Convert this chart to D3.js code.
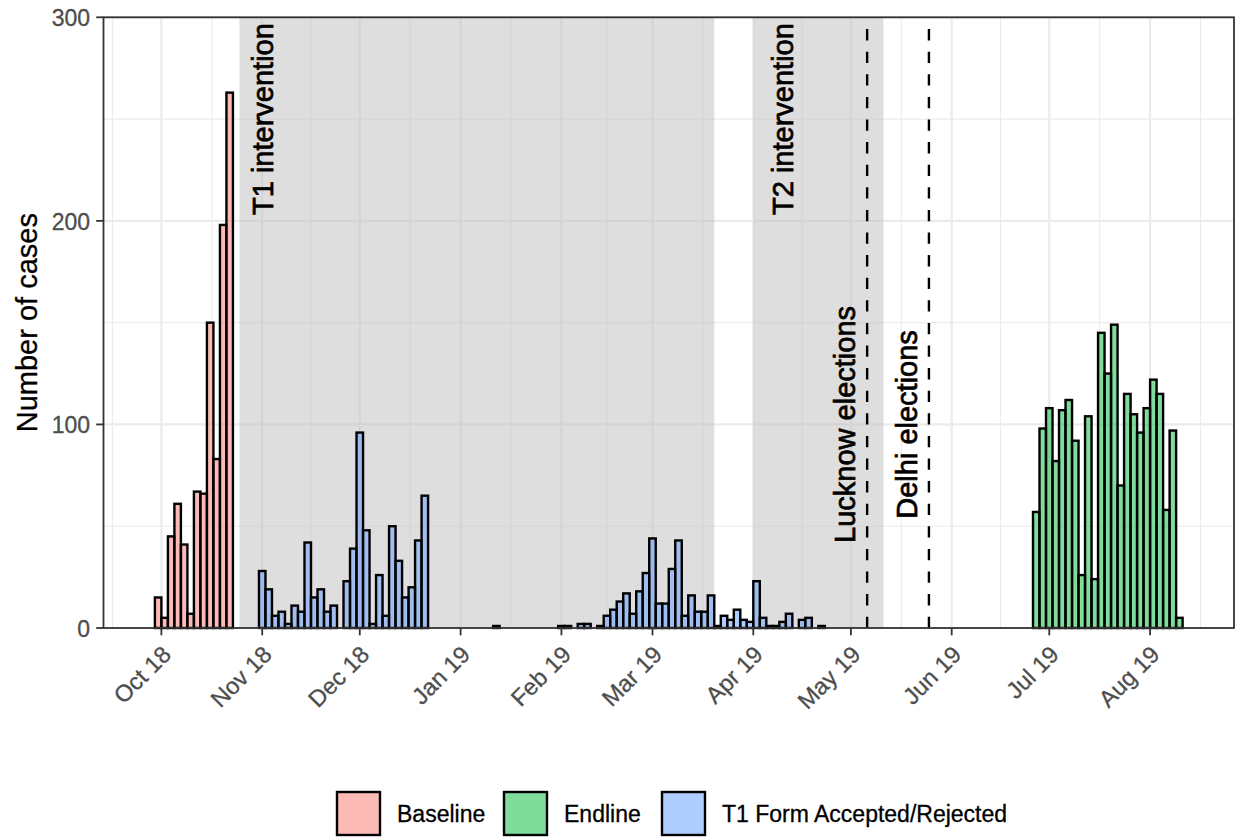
<!DOCTYPE html>
<html>
<head>
<meta charset="utf-8">
<script src="https://cdn.jsdelivr.net/npm/d3@7"></script>
<style>
  body { margin: 0; background: #fff; }
  text { font-family: "Liberation Sans", Arial, sans-serif; }
</style>
</head>
<body>
<svg></svg>
<script>
// cases per 2-day bin

var binDays = 2;

var baselineStart = "2018-09-29";
var baselineCounts = [15, 5, 45, 61, 41, 7, 67, 66, 150, 83, 198, 263];

var t1Start = "2018-10-31";
var t1Counts = [28, 19, 6, 8, 2, 11, 8, 42, 15, 19, 8, 11, 0, 23, 39, 96, 48, 2, 26, 6, 50, 33, 15, 20, 43, 65,
    0, 0, 0, 0, 0, 0, 0, 0, 0, 0,
    1,
    0, 0, 0, 0, 0, 0, 0, 0, 0,
    1, 1, 0, 2, 2, 0,
    1, 6, 9, 13, 17, 7, 18, 27, 44, 12, 12, 29, 43, 6, 16, 8, 8, 16, 1, 6, 4, 9, 4, 3, 23, 5, 1, 1, 3, 7, 0, 4, 5, 0, 1];

var endlineStart = "2019-06-26";
var endlineCounts = [57, 98, 108, 82, 107, 112, 92, 26, 104, 24, 145, 125, 149, 70, 115, 105, 96, 108, 122, 115, 58, 97, 5];

var seriesNames = ["Baseline", "Endline", "T1 Form Accepted/Rejected"];
var seriesColors = ["#F8766D", "#00BA38", "#619CFF"];

// shaded intervention periods
var shadeLabels = ["T1 intervention", "T2 intervention"];
var shadeStarts = ["2018-10-25", "2019-04-01"];
var shadeEnds = ["2019-03-20", "2019-05-11"];
var shadeLabelDates = ["2018-11-01", "2019-04-10"];

// election dates
var electionLabels = ["Lucknow elections", "Delhi elections"];
var electionDates = ["2019-05-06", "2019-05-25"];
var electionLabelDates = ["2019-04-29", "2019-05-18"];

var yTicks = [0, 100, 200, 300];
var yMinor = [50, 150, 250];

var svgWidth = 1238, svgHeight = 838;
var panelLeft = 103.5, panelRight = 1234, panelTop = 17.3, panelBottom = 628;

var parse = d3.timeParse("%Y-%m-%d");

function makeBins(start, counts, name) {
    var d0 = parse(start);
    return counts.map(function(c, i) {
        var a = d3.timeDay.offset(d0, i * binDays);
        return { name: name, start: a, end: d3.timeDay.offset(a, binDays), count: c };
    });
}

var bins = [].concat(
    makeBins(baselineStart, baselineCounts, "Baseline"),
    makeBins(t1Start, t1Counts, "T1 Form Accepted/Rejected"),
    makeBins(endlineStart, endlineCounts, "Endline")
);

var svg = d3.select("svg")
    .attr("width", svgWidth)
    .attr("height", svgHeight);

// ggplot style 5% expansion around the binned range
var xMin = d3.min(bins, function(d) { return d.start; });
var xMax = d3.max(bins, function(d) { return d.end; });
var pad = (xMax - xMin) * 0.05;

var xScale = d3.scaleTime()
    .domain([new Date(+xMin - pad), new Date(+xMax + pad)])
    .range([panelLeft, panelRight]);

var yScale = d3.scaleLinear()
    .domain([0, 300])
    .range([panelBottom, panelTop]);

var color = d3.scaleOrdinal().domain(seriesNames).range(seriesColors);

// grid
var majorX = d3.timeMonth.range(d3.timeMonth.floor(xScale.domain()[0]), d3.timeMonth.offset(xScale.domain()[1], 1));
var minorX = [];
for (var i = 0; i < majorX.length - 1; i++) {
    minorX.push(new Date((+majorX[i] + +majorX[i + 1]) / 2));
}
var inside = function(d) { return d >= xScale.domain()[0] && d <= xScale.domain()[1]; };
var xTicks = majorX.filter(inside);

var grid = svg.append("g");
grid.selectAll(".ymin").data(yMinor).enter().append("line")
    .attr("x1", panelLeft).attr("x2", panelRight)
    .attr("y1", function(d) { return yScale(d); })
    .attr("y2", function(d) { return yScale(d); })
    .attr("stroke", "#EBEBEB").attr("stroke-width", 1.1);
grid.selectAll(".xmin").data(minorX.filter(inside)).enter().append("line")
    .attr("y1", panelTop).attr("y2", panelBottom)
    .attr("x1", function(d) { return xScale(d); })
    .attr("x2", function(d) { return xScale(d); })
    .attr("stroke", "#EBEBEB").attr("stroke-width", 1.1);
grid.selectAll(".ymaj").data(yTicks).enter().append("line")
    .attr("x1", panelLeft).attr("x2", panelRight)
    .attr("y1", function(d) { return yScale(d); })
    .attr("y2", function(d) { return yScale(d); })
    .attr("stroke", "#EBEBEB").attr("stroke-width", 2.2);
grid.selectAll(".xmaj").data(xTicks).enter().append("line")
    .attr("y1", panelTop).attr("y2", panelBottom)
    .attr("x1", function(d) { return xScale(d); })
    .attr("x2", function(d) { return xScale(d); })
    .attr("stroke", "#EBEBEB").attr("stroke-width", 2.2);

// shaded periods
svg.selectAll(".shade")
    .data(shadeStarts)
    .enter()
    .append("rect")
    .attr("x", function(d) { return xScale(parse(d)); })
    .attr("y", panelTop)
    .attr("width", function(d, i) { return xScale(parse(shadeEnds[i])) - xScale(parse(d)); })
    .attr("height", panelBottom - panelTop)
    .attr("fill", "#BEBEBE")
    .attr("fill-opacity", 0.5);

// bars
svg.selectAll(".bar")
    .data(bins.filter(function(d) { return d.count > 0; }))
    .enter()
    .append("rect")
    .attr("x", function(d) { return xScale(d.start); })
    .attr("y", function(d) { return yScale(d.count); })
    .attr("width", function(d) { return xScale(d.end) - xScale(d.start); })
    .attr("height", function(d) { return yScale(0) - yScale(d.count); })
    .attr("fill", function(d) { return color(d.name); })
    .attr("fill-opacity", 0.5)
    .attr("stroke", "#000")
    .attr("stroke-width", 2.4);

// election lines
svg.selectAll(".vline")
    .data(electionDates)
    .enter()
    .append("line")
    .attr("x1", function(d) { return xScale(parse(d)); })
    .attr("x2", function(d) { return xScale(parse(d)); })
    .attr("y1", panelBottom)
    .attr("y2", panelTop)
    .attr("stroke", "#000")
    .attr("stroke-width", 2.4)
    .attr("stroke-dasharray", "11.3,11.3");

// annotation text
function vText(label, date, value) {
    svg.append("text")
        .attr("transform", "translate(" + xScale(parse(date)) + "," + yScale(value) + ") rotate(-90)")
        .attr("text-anchor", "middle")
        .attr("dy", "0.36em")
        .attr("font-size", 29)
        .attr("fill", "#000")
        .attr("stroke", "#000")
        .attr("stroke-width", 0.7)
        .text(label);
}
shadeLabels.forEach(function(l, i) { vText(l, shadeLabelDates[i], 250); });
electionLabels.forEach(function(l, i) { vText(l, electionLabelDates[i], 100); });

// panel border
svg.append("rect")
    .attr("x", panelLeft).attr("y", panelTop)
    .attr("width", panelRight - panelLeft).attr("height", panelBottom - panelTop)
    .attr("fill", "none")
    .attr("stroke", "#333333")
    .attr("stroke-width", 1.8);

// y axis
var yAxis = svg.append("g");
yAxis.selectAll("line").data(yTicks).enter().append("line")
    .attr("x1", panelLeft - 7.3).attr("x2", panelLeft)
    .attr("y1", function(d) { return yScale(d); })
    .attr("y2", function(d) { return yScale(d); })
    .attr("stroke", "#333333").attr("stroke-width", 1.8);
yAxis.selectAll("text").data(yTicks).enter().append("text")
    .attr("x", 90)
    .attr("y", function(d) { return yScale(d) + 9; })
    .attr("text-anchor", "end")
    .attr("font-size", 23)
    .attr("fill", "#4D4D4D")
    .attr("stroke", "#4D4D4D")
    .attr("stroke-width", 0.3)
    .text(function(d) { return d; });

svg.append("text")
    .attr("transform", "translate(37," + (panelTop + panelBottom) / 2 + ") rotate(-90)")
    .attr("text-anchor", "middle")
    .attr("font-size", 29)
    .attr("fill", "#000")
    .attr("stroke", "#000")
    .attr("stroke-width", 0.3)
    .text("Number of cases");

// x axis
var fmt = d3.timeFormat("%b %y");
var xAxis = svg.append("g");
xAxis.selectAll("line").data(xTicks).enter().append("line")
    .attr("x1", function(d) { return xScale(d); })
    .attr("x2", function(d) { return xScale(d); })
    .attr("y1", panelBottom).attr("y2", panelBottom + 7.3)
    .attr("stroke", "#333333").attr("stroke-width", 1.8);
xAxis.selectAll("text").data(xTicks).enter().append("text")
    .attr("transform", function(d) { return "translate(" + (xScale(d) + 11) + ",656) rotate(-45)"; })
    .attr("text-anchor", "end")
    .attr("font-size", 23.5)
    .attr("fill", "#4D4D4D")
    .attr("stroke", "#4D4D4D")
    .attr("stroke-width", 0.3)
    .text(function(d) { return fmt(d); });

// legend
var legendX = [337, 504, 662];
var legend = svg.selectAll(".legend")
    .data(seriesNames)
    .enter()
    .append("g")
    .attr("transform", function(d, i) { return "translate(" + legendX[i] + ",792)"; });
legend.append("rect")
    .attr("width", 43).attr("height", 43)
    .attr("fill", function(d) { return color(d); })
    .attr("fill-opacity", 0.5)
    .attr("stroke", "#000")
    .attr("stroke-width", 2.4);
legend.append("text")
    .attr("x", 60)
    .attr("y", 30)
    .attr("font-size", 23)
    .attr("fill", "#000")
    .attr("stroke", "#000")
    .attr("stroke-width", 0.3)
    .text(function(d) { return d; });
</script>
</body>
</html>
